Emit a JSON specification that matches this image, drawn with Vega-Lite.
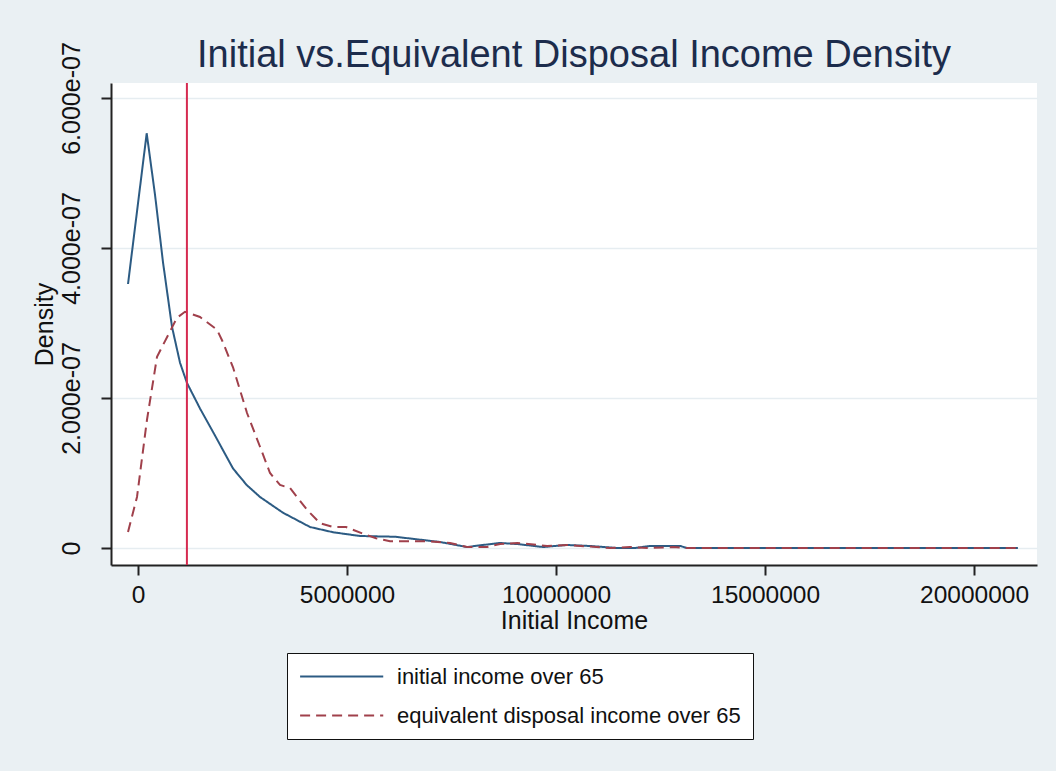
{
  "$schema": "https://vega.github.io/schema/vega-lite/v6.json",
  "width": 926,
  "height": 482,
  "autosize": {"type": "none"},
  "padding": {"left": 111, "top": 83, "right": 19, "bottom": 206},
  "background": "#eaf0f3",
  "title": {
    "text": "Initial vs.Equivalent Disposal Income Density",
    "anchor": "middle",
    "frame": "group",
    "font": "Liberation Sans",
    "fontSize": 38,
    "fontWeight": "normal",
    "color": "#1c2c4c",
    "offset": -33
  },
  "config": {
    "view": {"fill": "white", "stroke": null},
    "font": "Liberation Sans",
    "axis": {
      "labelFont": "Liberation Sans",
      "titleFont": "Liberation Sans",
      "labelColor": "#111",
      "titleColor": "#111",
      "titleFontWeight": "normal",
      "domainColor": "#222",
      "domainWidth": 2,
      "tickColor": "#222",
      "tickWidth": 2,
      "tickSize": 10
    },
    "legend": {
      "labelFont": "Liberation Sans",
      "labelColor": "#111"
    }
  },
  "datasets": {
    "density": [
      {"series": "initial income over 65", "income": -239000, "density": 3.52e-7},
      {"series": "initial income over 65", "income": 208000, "density": 5.53e-7},
      {"series": "initial income over 65", "income": 407000, "density": 4.71e-7},
      {"series": "initial income over 65", "income": 598000, "density": 3.81e-7},
      {"series": "initial income over 65", "income": 813000, "density": 2.95e-7},
      {"series": "initial income over 65", "income": 1005000, "density": 2.47e-7},
      {"series": "initial income over 65", "income": 1172000, "density": 2.2e-7},
      {"series": "initial income over 65", "income": 1483000, "density": 1.86e-7},
      {"series": "initial income over 65", "income": 1842000, "density": 1.5e-7},
      {"series": "initial income over 65", "income": 2273000, "density": 1.06e-7},
      {"series": "initial income over 65", "income": 2600000, "density": 0.84e-7},
      {"series": "initial income over 65", "income": 2919000, "density": 0.68e-7},
      {"series": "initial income over 65", "income": 3469000, "density": 0.47e-7},
      {"series": "initial income over 65", "income": 4115000, "density": 0.28e-7},
      {"series": "initial income over 65", "income": 4665000, "density": 0.21e-7},
      {"series": "initial income over 65", "income": 5311000, "density": 0.16e-7},
      {"series": "initial income over 65", "income": 6148000, "density": 0.15e-7},
      {"series": "initial income over 65", "income": 7225000, "density": 0.08e-7},
      {"series": "initial income over 65", "income": 7870000, "density": 0.013e-7},
      {"series": "initial income over 65", "income": 8250000, "density": 0.04e-7},
      {"series": "initial income over 65", "income": 8660000, "density": 0.067e-7},
      {"series": "initial income over 65", "income": 9070000, "density": 0.053e-7},
      {"series": "initial income over 65", "income": 9690000, "density": 0.013e-7},
      {"series": "initial income over 65", "income": 10260000, "density": 0.04e-7},
      {"series": "initial income over 65", "income": 10810000, "density": 0.027e-7},
      {"series": "initial income over 65", "income": 11460000, "density": 0},
      {"series": "initial income over 65", "income": 11890000, "density": 0},
      {"series": "initial income over 65", "income": 12250000, "density": 0.027e-7},
      {"series": "initial income over 65", "income": 12970000, "density": 0.027e-7},
      {"series": "initial income over 65", "income": 13130000, "density": 0},
      {"series": "initial income over 65", "income": 21050000, "density": 0},
      {"series": "equivalent disposal income over 65", "income": -239000, "density": 0.213e-7},
      {"series": "equivalent disposal income over 65", "income": -24000, "density": 0.68e-7},
      {"series": "equivalent disposal income over 65", "income": 215000, "density": 1.71e-7},
      {"series": "equivalent disposal income over 65", "income": 455000, "density": 2.55e-7},
      {"series": "equivalent disposal income over 65", "income": 694000, "density": 2.81e-7},
      {"series": "equivalent disposal income over 65", "income": 933000, "density": 3.07e-7},
      {"series": "equivalent disposal income over 65", "income": 1124000, "density": 3.15e-7},
      {"series": "equivalent disposal income over 65", "income": 1483000, "density": 3.08e-7},
      {"series": "equivalent disposal income over 65", "income": 1890000, "density": 2.91e-7},
      {"series": "equivalent disposal income over 65", "income": 2010000, "density": 2.77e-7},
      {"series": "equivalent disposal income over 65", "income": 2273000, "density": 2.41e-7},
      {"series": "equivalent disposal income over 65", "income": 2608000, "density": 1.8e-7},
      {"series": "equivalent disposal income over 65", "income": 2919000, "density": 1.35e-7},
      {"series": "equivalent disposal income over 65", "income": 3158000, "density": 1.0e-7},
      {"series": "equivalent disposal income over 65", "income": 3397000, "density": 0.84e-7},
      {"series": "equivalent disposal income over 65", "income": 3636000, "density": 0.8e-7},
      {"series": "equivalent disposal income over 65", "income": 4043000, "density": 0.51e-7},
      {"series": "equivalent disposal income over 65", "income": 4354000, "density": 0.33e-7},
      {"series": "equivalent disposal income over 65", "income": 4665000, "density": 0.28e-7},
      {"series": "equivalent disposal income over 65", "income": 4976000, "density": 0.28e-7},
      {"series": "equivalent disposal income over 65", "income": 5383000, "density": 0.19e-7},
      {"series": "equivalent disposal income over 65", "income": 5694000, "density": 0.13e-7},
      {"series": "equivalent disposal income over 65", "income": 6029000, "density": 0.09e-7},
      {"series": "equivalent disposal income over 65", "income": 6459000, "density": 0.09e-7},
      {"series": "equivalent disposal income over 65", "income": 6938000, "density": 0.09e-7},
      {"series": "equivalent disposal income over 65", "income": 7464000, "density": 0.067e-7},
      {"series": "equivalent disposal income over 65", "income": 7871000, "density": 0.013e-7},
      {"series": "equivalent disposal income over 65", "income": 8350000, "density": 0.013e-7},
      {"series": "equivalent disposal income over 65", "income": 8660000, "density": 0.053e-7},
      {"series": "equivalent disposal income over 65", "income": 9070000, "density": 0.067e-7},
      {"series": "equivalent disposal income over 65", "income": 9787000, "density": 0.027e-7},
      {"series": "equivalent disposal income over 65", "income": 10265000, "density": 0.04e-7},
      {"series": "equivalent disposal income over 65", "income": 11290000, "density": 0},
      {"series": "equivalent disposal income over 65", "income": 11770000, "density": 0.013e-7},
      {"series": "equivalent disposal income over 65", "income": 12250000, "density": 0},
      {"series": "equivalent disposal income over 65", "income": 12800000, "density": 0.013e-7},
      {"series": "equivalent disposal income over 65", "income": 13130000, "density": 0},
      {"series": "equivalent disposal income over 65", "income": 21050000, "density": 0}
    ],
    "reference": [
      {"income": 1170000}
    ]
  },
  "layer": [
    {
      "data": {"name": "density"},
      "mark": {"type": "line", "strokeWidth": 2},
      "encoding": {
        "x": {
          "field": "income",
          "type": "quantitative",
          "scale": {"domain": [-646000, 21507000], "nice": false, "zero": false},
          "axis": {
            "title": "Initial Income",
            "values": [0, 5000000, 10000000, 15000000, 20000000],
            "labelExpr": "format(datum.value, 'd')",
            "labelFontSize": 24.5,
            "titleFontSize": 25,
            "labelPadding": 8,
            "titlePadding": 2,
            "grid": false
          }
        },
        "y": {
          "field": "density",
          "type": "quantitative",
          "scale": {"domain": [-2.267e-8, 6.2e-7], "nice": false, "zero": false},
          "axis": {
            "title": "Density",
            "values": [0, 2e-7, 4e-7, 6e-7],
            "labelExpr": "datum.value == 0 ? '0' : replace(format(datum.value, '.3e'), 'e-', 'e-0')",
            "labelAngle": -90,
            "labelAlign": "center",
            "labelBaseline": "bottom",
            "labelFontSize": 25,
            "titleFontSize": 25,
            "labelPadding": 17,
            "titlePadding": 2,
            "grid": true,
            "gridColor": "#e6edf1",
            "gridWidth": 1.5
          }
        },
        "color": {
          "field": "series",
          "type": "nominal",
          "sort": ["initial income over 65", "equivalent disposal income over 65"],
          "scale": {
            "domain": ["initial income over 65", "equivalent disposal income over 65"],
            "range": ["#2c5b83", "#a0404b"]
          },
          "legend": {
            "title": null,
            "orient": "none",
            "legendX": 176,
            "legendY": 570,
            "direction": "vertical",
            "strokeColor": "#111",
            "fillColor": "white",
            "padding": 12,
            "symbolType": "M-1,0H7",
            "symbolSize": 432,
            "symbolStrokeWidth": 2,
            "labelFontSize": 22,
            "labelOffset": 75,
            "labelLimit": 0,
            "rowPadding": 16,
            "labelExpr": "datum.label + '\u2002\u2002'"
          }
        },
        "strokeDash": {
          "field": "series",
          "type": "nominal",
          "sort": ["initial income over 65", "equivalent disposal income over 65"],
          "scale": {
            "domain": ["initial income over 65", "equivalent disposal income over 65"],
            "range": [[1, 0], [10, 6]]
          },
          "legend": {
            "title": null,
            "orient": "none",
            "legendX": 176,
            "legendY": 570,
            "direction": "vertical",
            "strokeColor": "#111",
            "fillColor": "white",
            "padding": 12,
            "symbolType": "M-1,0H7",
            "symbolSize": 432,
            "symbolStrokeWidth": 2,
            "labelFontSize": 22,
            "labelOffset": 75,
            "labelLimit": 0,
            "rowPadding": 16,
            "labelExpr": "datum.label + '\u2002\u2002'"
          }
        }
      }
    },
    {
      "data": {"name": "reference"},
      "mark": {"type": "rule", "color": "#d62a50", "strokeWidth": 2},
      "encoding": {
        "x": {"field": "income", "type": "quantitative"}
      }
    }
  ]
}
